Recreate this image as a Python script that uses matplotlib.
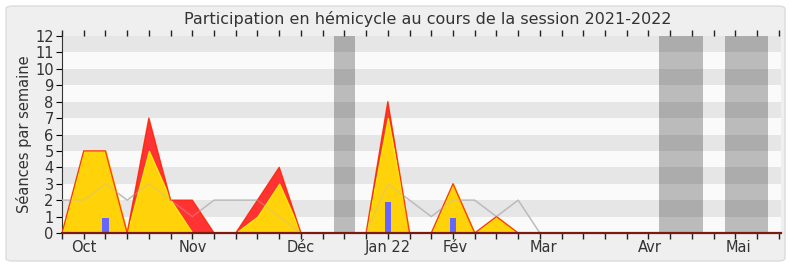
import matplotlib
matplotlib.use("Agg")
import matplotlib.pyplot as plt
from matplotlib.patches import FancyBboxPatch
import numpy as np

# ---- data (one value per week, weeks 0..33) ----
weeks = list(range(34))
total = [0, 5, 5, 0, 7, 2, 2, 0, 0, 2, 4, 0, 0, 0, 0, 8, 0, 0, 3, 0, 1, 0,
         0, 0, 0, 0, 0, 0, 0, 0, 0, 0, 0, 0]
presence = [0, 5, 5, 0, 5, 2, 0, 0, 0, 1, 3, 0, 0, 0, 0, 7, 0, 0, 3, 0, 1, 0,
            0, 0, 0, 0, 0, 0, 0, 0, 0, 0, 0, 0]
median = [2, 2, 3, 2, 3, 2, 1, 2, 2, 2, 1, 0, 0, 0, 0, 3, 2, 1, 2, 2, 1, 2,
          0, 0, 0, 0, 0, 0, 0, 0, 0, 0, 0, 0]
question_weeks = [2, 15, 18]
question_values = [0.9, 1.9, 0.9]
vacances = [(12.5, 13.5), (27.5, 29.5), (30.5, 32.5)]
month_pos = [1.0, 6.0, 11.0, 15.0, 18.1, 22.15, 27.05, 31.15]
month_labels = ["Oct", "Nov", "Déc", "Jan 22", "Fév", "Mar", "Avr", "Mai"]

plt.rcParams['font.family'] = ['DejaVu Sans']

fig = plt.figure(figsize=(7.9, 2.67), dpi=100, facecolor='white')
bg = FancyBboxPatch((6 / 790, 6 / 267), 779 / 790, 255 / 267,
                    boxstyle="round,pad=0,rounding_size=0.01",
                    transform=fig.transFigure, facecolor='#EFEFEF',
                    edgecolor='#DCDCDC', linewidth=1, zorder=-10)
fig.patches.append(bg)

ax = fig.add_axes([62 / 790, 1 - 233 / 267, (781 - 62) / 790, (233 - 36) / 267])
ax.set_zorder(1)
ax.set_facecolor('#FAFAFA')
ax.set_xlim(0, 33.1)
ax.set_ylim(0, 12)

for a, b in vacances:
    ax.axvspan(a, b, color='#BBBBBB', lw=0, zorder=1)
for k in range(1, 12, 2):
    ax.axhspan(k, k + 1, color='black', alpha=0.08, lw=0, zorder=2)

ax.plot(weeks, median, color='#BBBBBB', lw=1, zorder=3)
ax.fill_between(weeks, 0, total, facecolor='#FF3333', lw=0, zorder=4)
ax.fill_between(weeks, 0, presence, facecolor='#FFD20A', edgecolor='#FFEE00',
                lw=1, zorder=5)
ax.plot(weeks, total, color='#FF2200', lw=1, alpha=0.85, zorder=5.5)
ax.plot(weeks, median, color='#BBBBBB', lw=1, alpha=0.35, zorder=6)
ax.bar(question_weeks, question_values, width=0.3, color='#6666FF', zorder=7)

ax.xaxis.remove_overlapping_locs = False
ax.set_yticks(range(0, 13))
ax.set_xticks(weeks)
ax.set_xticklabels([])
ax.set_xticks(month_pos, minor=True)
ax.set_xticklabels(month_labels, minor=True)
ax.tick_params(axis='x', which='major', direction='out', length=4, width=1,
               color='#222222', top=True)
ax.tick_params(axis='x', which='minor', length=0, pad=5, labelsize=10.5,
               labelcolor='#333333')
ax.tick_params(axis='y', direction='out', length=4, labelsize=10.5,
               labelcolor='#333333', pad=2)

for s in ['top', 'right']:
    ax.spines[s].set_visible(False)
ax.spines['left'].set_color('#333333')
ax.spines['bottom'].set_color('#7A1A10')
ax.spines['bottom'].set_linewidth(1.6)
ax.spines['bottom'].set_zorder(8)

ax.set_ylabel('Séances par semaine', fontsize=10.5, color='#333333', labelpad=2)
fig.text(427.5 / 790, 1 - 19 / 267, 'Participation en hémicycle au cours de la session 2021-2022',
         ha='center', va='center', fontsize=11.5, color='#333333')

fig.savefig('out.png', dpi=100, facecolor=fig.get_facecolor())
